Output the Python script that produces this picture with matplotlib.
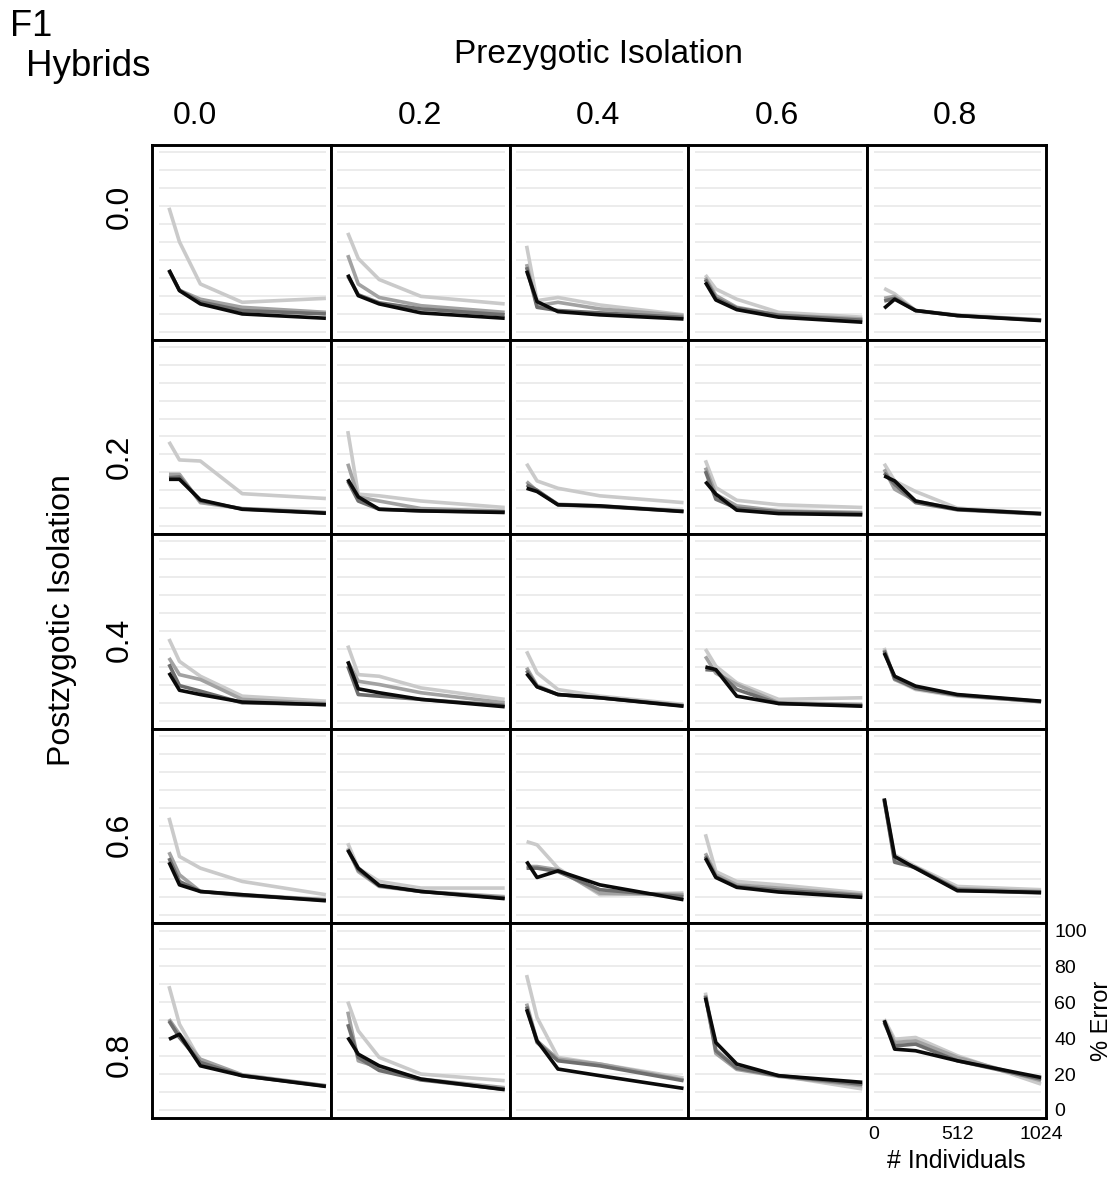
import matplotlib
matplotlib.use("Agg")
import matplotlib.pyplot as plt
import numpy as np

plt.rcParams['font.family'] = ['Liberation Sans', 'DejaVu Sans']

# ---- data ----
n_individuals = [64, 128, 256, 512, 1024]
prezygotic = ["0.0", "0.2", "0.4", "0.6", "0.8"]
postzygotic = ["0.0", "0.2", "0.4", "0.6", "0.8"]
y_ticks = [0, 20, 40, 60, 80, 100]
x_ticks = [0, 512, 1024]
grid_levels = [0, 10, 20, 30, 40, 50, 60, 70, 80, 90, 100]

# err_*[row=postzygotic][col=prezygotic] -> % error at each n_individuals
err_light = [
    [[69, 50, 26.5, 16.3, 18.5], [55, 40.7, 29, 19.6, 15.4], [47.8, 17.2, 19, 14.8, 9.3], [31.5, 23.7, 18, 10.7, 8], [24, 21, 11.7, 9.3, 6.5]],
    [[47, 36.9, 36.3, 18.1, 15.4], [53, 17.8, 16.9, 14, 10.4], [34.8, 25.2, 21.1, 16.9, 13.1], [36.7, 21.5, 14.4, 11.9, 10.4], [34.8, 25.2, 19.3, 10, 7]],
    [[45.6, 33.1, 24.8, 13.7, 10.9], [41.9, 25.7, 24.8, 18.3, 11.9], [38.7, 26.7, 17.4, 13.7, 9.1], [40, 30.4, 21.1, 11.9, 12.8], [40.6, 23, 17.4, 13.7, 10.9]],
    [[54.4, 32.8, 26.3, 18.9, 11.5], [40.2, 26.3, 18.9, 15.2, 15.2], [41.1, 39.3, 26.3, 11.5, 12.4], [45.2, 24.4, 18.9, 17, 12.4], [63.7, 33.7, 27.2, 16.1, 14.3]],
    [[69, 47.8, 27.4, 19.1, 13.5], [60.4, 44.1, 29.3, 20, 16.3], [75.2, 51.5, 29.3, 25.6, 17.8], [65.4, 33.9, 23.7, 19.1, 11.7], [50.6, 39.4, 40.4, 30.2, 14.4]],
]
err_mid1 = [
    [[34, 23, 18, 13.5, 10.7], [42.6, 26.5, 19, 14.4, 10.7], [37.6, 14.4, 16.3, 12.6, 8.9], [30, 20, 13.5, 9.3, 7], [18.5, 19.6, 11.7, 8.9, 6.5]],
    [[28.9, 28.9, 13.1, 9.8, 7.6], [34.8, 16.3, 14, 9.8, 8.3], [24.8, 19.6, 12.2, 11.3, 8.5], [32.6, 17.8, 11.3, 8.5, 7.6], [31.7, 20.6, 14, 9.4, 7]],
    [[35, 25.7, 23, 11.9, 9.6], [33.1, 22, 20.2, 15.6, 10], [29.6, 19.6, 14.6, 12.8, 8.5], [35.9, 26.5, 20.2, 10, 9.1], [39.6, 23, 18.3, 14.1, 10.6]],
    [[35.2, 22.6, 13.3, 11.5, 8.7], [37.4, 24.4, 16.1, 13.3, 10.4], [27.2, 27.2, 25.4, 12.4, 11.5], [34.6, 22.6, 17, 15.2, 11.5], [64.3, 31.1, 26.3, 14.8, 13.3]],
    [[50.6, 42.2, 28.3, 19.6, 13.5], [54.8, 27.4, 23.7, 17.2, 12.4], [59.3, 38.5, 28.3, 25.6, 16.7], [64, 31.5, 22.6, 18.7, 13.5], [49.6, 37.6, 38.5, 29.3, 16.3]],
]
err_mid2 = [
    [[34, 23, 16.5, 11.7, 9.8], [31, 20.5, 16, 12.6, 9.3], [35.9, 13.5, 11.7, 10.4, 7.9], [29, 18.5, 13, 9, 6.3], [17, 18.5, 11.7, 8.9, 6.3]],
    [[27, 27.4, 14, 9.6, 7.4], [25.2, 14, 9.4, 8.5, 8], [23, 20, 11.9, 10.9, 8.3], [30.7, 15, 10, 8, 7], [29.6, 23.3, 13.1, 9.1, 6.7]],
    [[31.5, 19.6, 16.5, 10, 9.1], [30.4, 14.6, 13.7, 11.9, 8.5], [28, 19, 14.6, 12.8, 8.3], [28.5, 28.1, 17.4, 9.6, 8.5], [39, 23.5, 18, 14.3, 10.6]],
    [[31.9, 18.9, 13.3, 11.1, 8.5], [36.5, 25.4, 16.5, 13.3, 9.6], [26.3, 26.3, 24.4, 14.3, 10.4], [33, 21.5, 16, 14, 11], [64.8, 29.6, 26.7, 14.3, 12.4]],
    [[49.6, 40.4, 26.5, 19.1, 13.3], [47.8, 29.3, 22, 16.7, 11.5], [57.6, 37.6, 27.4, 24.6, 16.3], [63.5, 33, 23.3, 19.1, 14.3], [48.7, 35.7, 36.7, 27.4, 17.2]],
]
err_black = [
    [[34.4, 22.8, 15.4, 9.8, 7.4], [31.7, 20, 15.4, 10.4, 7.4], [33.9, 16.7, 11.1, 9.3, 7], [27.4, 17.6, 12.2, 8, 5.2], [13, 18, 11.7, 8.9, 6.1]],
    [[26.1, 26.1, 14.6, 9.4, 7.2], [26.1, 16.3, 9.4, 8.5, 7.6], [21.1, 19.3, 11.9, 11.3, 8.1], [24.8, 17.8, 8.9, 7, 6.3], [28, 25.2, 14, 9.4, 7]],
    [[26.7, 17, 14.6, 10.4, 8.9], [33.1, 17.8, 15.6, 11.9, 7.8], [26.3, 18.9, 14.6, 12.8, 8.1], [30, 28.5, 13.7, 9.6, 8.1], [37.8, 24.8, 19.3, 14.6, 10.9]],
    [[29.6, 17, 13.3, 11.5, 8.1], [36.5, 26.3, 16.7, 13.3, 9.3], [30, 21.1, 24.8, 17, 8.7], [31.9, 21.1, 15.6, 13, 10], [65.2, 32.8, 26.3, 13.7, 12.8]],
    [[39.4, 42.2, 24.6, 19.1, 13.1], [40.4, 31.1, 24.6, 17.2, 11.3], [56.1, 38.5, 22.8, 19.1, 12], [62.6, 37.6, 25.6, 19.1, 15.4], [50, 33.9, 33, 27.4, 18.1]],
]

series = [(err_light, "#cacaca"), (err_mid1, "#a2a2a2"), (err_mid2, "#6e6e6e"), (err_black, "#0a0a0a")]

W, H = 1112, 1182
fig = plt.figure(figsize=(W / 100, H / 100), dpi=100)
L, R, T, B = 152, 1046, 145, 1118
gs = fig.add_gridspec(5, 5, left=L / W, right=R / W, top=1 - T / H, bottom=1 - B / H, wspace=0, hspace=0)

for r in range(5):
    for c in range(5):
        ax = fig.add_subplot(gs[r, c])
        ax.hlines(grid_levels, x_ticks[0], x_ticks[-1], colors="#ececec", linewidth=1.4, zorder=0)
        for data, col in series:
            ax.plot(n_individuals, data[r][c], color=col, linewidth=2.6, solid_capstyle="butt", zorder=2)
        ax.set_xlim(-40, 1054)
        ax.set_ylim(-4.5, 104)
        for s in ax.spines.values():
            s.set_linewidth(2.1)
            s.set_color("black")
        if r == 4 and c == 4:
            ax.yaxis.tick_right()
            ax.set_yticks(y_ticks)
            ax.set_yticklabels([str(v) for v in y_ticks], fontsize=14)
            ax.set_xticks(x_ticks)
            ax.set_xticklabels([str(v) for v in x_ticks], fontsize=14)
            ax.tick_params(length=0, pad=6)
            ax.yaxis.set_label_position("right")
            ax.set_ylabel("% Error", fontsize=17, labelpad=3)
            ax.set_xlabel("# Individuals", fontsize=18, labelpad=4)
        else:
            ax.set_xticks([])
            ax.set_yticks([])

def ft(x, y, s, **kw):
    fig.text(x / W, 1 - y / H, s, **kw)

ft(10, 26, "F1", fontsize=26, ha="left", va="center")
ft(26, 67, "Hybrids", fontsize=26.5, ha="left", va="center")
ft(598, 54, "Prezygotic Isolation", fontsize=24, ha="center", va="center")
for x, lab in zip([195, 420, 598, 777, 955], prezygotic):
    ft(x, 116, lab, fontsize=23, ha="center", va="center")
ft(62, 620, "Postzygotic Isolation", fontsize=23, ha="center", va="center", rotation=90)
for y, lab in zip([207, 457, 640, 835, 1055], postzygotic):
    ft(120, y, lab, fontsize=23, ha="center", va="center", rotation=90)

fig.savefig("out.png", dpi=100, facecolor="white")
